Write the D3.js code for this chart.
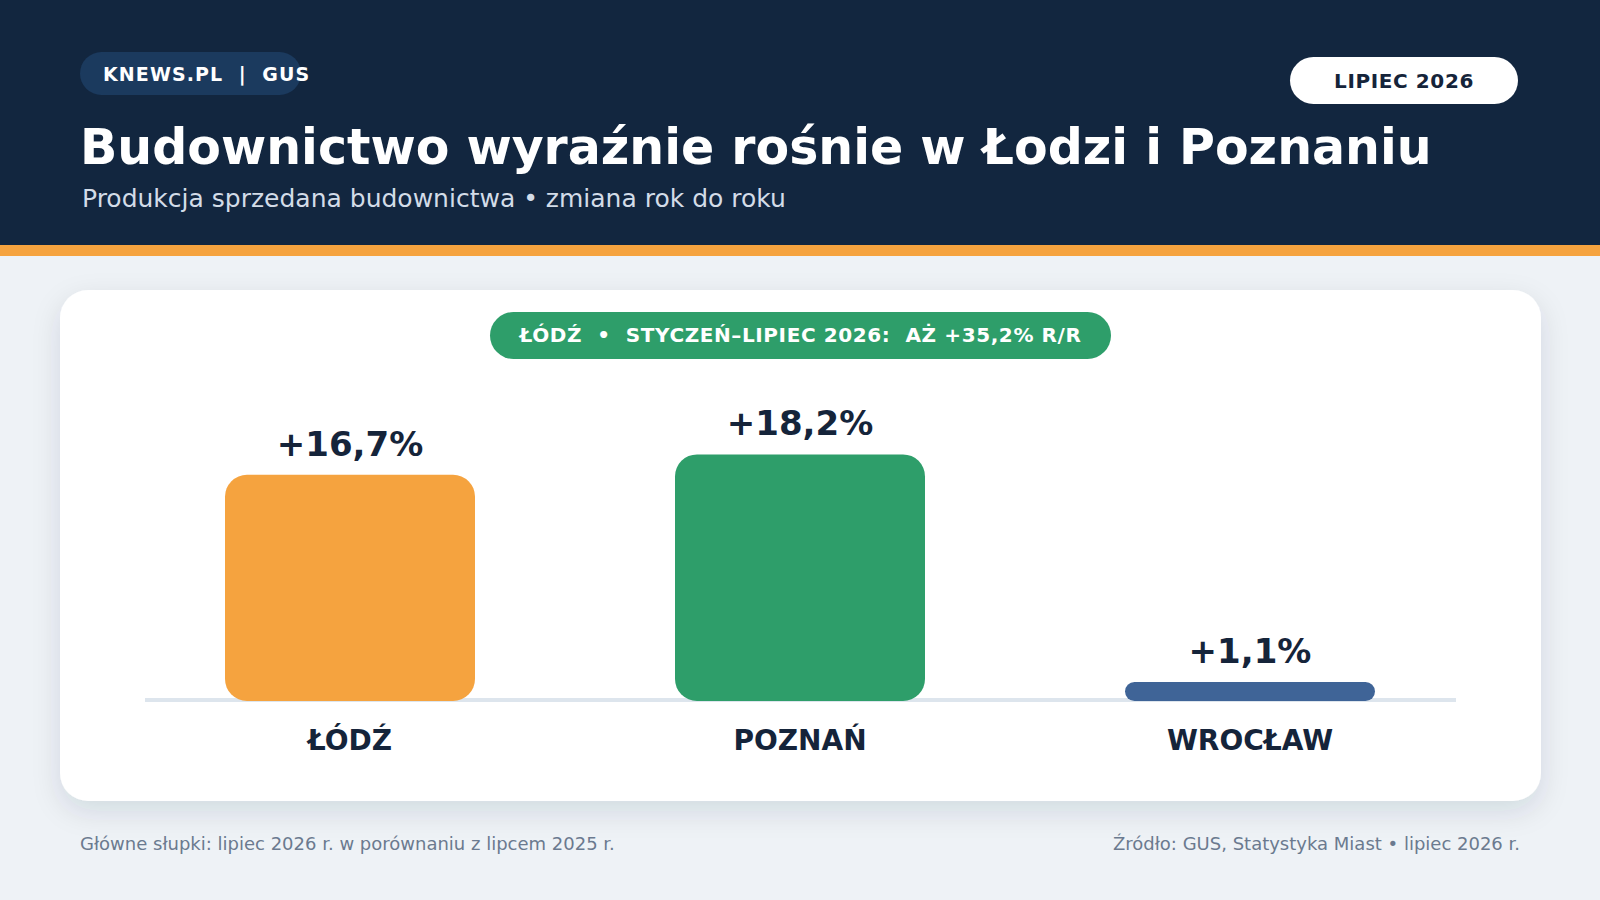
<!DOCTYPE html>
<html lang="pl">
<head>
<meta charset="utf-8">
<title>Budownictwo</title>
<script src="https://cdn.jsdelivr.net/npm/d3@7"></script>
<style>
  html, body { margin: 0; padding: 0; background: #eef2f6; }
  svg { display: block; font-family: "DejaVu Sans", Verdana, sans-serif; }
</style>
</head>
<body>
<svg id="chart" width="1600" height="900"></svg>
<script>
// dane: produkcja sprzedana budownictwa, lipiec 2026 r/r
var cities = ['ŁÓDŹ', 'POZNAŃ', 'WROCŁAW'];
var changes = [16.7, 18.2, 1.1];
var barColors = ['#f5a33f', '#2e9e6a', '#3f6497'];

var title = 'Budownictwo wyraźnie rośnie w Łodzi i Poznaniu';
var subtitle = 'Produkcja sprzedana budownictwa • zmiana rok do roku';
var brand = 'KNEWS.PL  |  GUS';
var period = 'LIPIEC 2026';
var highlight = 'ŁÓDŹ  •  STYCZEŃ–LIPIEC 2026:  AŻ +35,2% R/R';
var noteLeft = 'Główne słupki: lipiec 2026 r. w porównaniu z lipcem 2025 r.';
var noteRight = 'Źródło: GUS, Statystyka Miast • lipiec 2026 r.';

var pl = d3.formatLocale({decimal: ',', thousands: ' ', grouping: [3], currency: ['', ' zł']});
var fmt = pl.format('+.1f');

var data = cities.map(function(c, i) {
  return {city: c, value: changes[i], color: barColors[i]};
});

var svg = d3.select('#chart');
var navy = '#15243a';

var defs = svg.append('defs');
var shadow = defs.append('filter').attr('id', 'shadow')
    .attr('x', '-10%').attr('y', '-10%').attr('width', '120%').attr('height', '130%');
shadow.append('feDropShadow')
    .attr('dx', 0).attr('dy', 10).attr('stdDeviation', 14)
    .attr('flood-color', '#1a2c48').attr('flood-opacity', 0.12);

// naglowek
svg.append('rect').attr('width', 1600).attr('height', 245).attr('fill', '#12263f');
svg.append('rect').attr('y', 245).attr('width', 1600).attr('height', 11).attr('fill', '#f5a33f');

svg.append('rect')
    .attr('x', 80).attr('y', 52).attr('width', 221).attr('height', 43).attr('rx', 21.5)
    .attr('fill', '#1b3a5e');
svg.append('text')
    .attr('x', 103).attr('y', 81)
    .attr('fill', '#fff').attr('font-size', 19).attr('font-weight', 700)
    .attr('letter-spacing', 1.1)
    .style('white-space', 'pre')
    .text(brand);

svg.append('rect')
    .attr('x', 1290).attr('y', 57).attr('width', 228).attr('height', 47).attr('rx', 23.5)
    .attr('fill', '#fff');
svg.append('text')
    .attr('x', 1404).attr('y', 88).attr('text-anchor', 'middle')
    .attr('fill', navy).attr('font-size', 20).attr('font-weight', 700)
    .attr('letter-spacing', 0.6)
    .text(period);

svg.append('text')
    .attr('x', 80).attr('y', 164)
    .attr('fill', '#fff').attr('font-size', 49).attr('font-weight', 700)
    .text(title);
svg.append('text')
    .attr('x', 82).attr('y', 207)
    .attr('fill', '#d3dce8').attr('font-size', 25)
    .text(subtitle);

// karta
svg.append('rect')
    .attr('x', 60).attr('y', 290).attr('width', 1481).attr('height', 511).attr('rx', 28)
    .attr('fill', '#fff').attr('filter', 'url(#shadow)');

svg.append('rect')
    .attr('x', 490).attr('y', 312).attr('width', 621).attr('height', 47).attr('rx', 23.5)
    .attr('fill', '#2e9e6a');
svg.append('text')
    .attr('x', 800.5).attr('y', 342).attr('text-anchor', 'middle')
    .attr('fill', '#fff').attr('font-size', 20).attr('font-weight', 700)
    .attr('letter-spacing', 0.6)
    .style('white-space', 'pre')
    .text(highlight);

var x = d3.scaleBand()
    .domain(cities)
    .range([125, 1475])
    .paddingInner(4 / 9)
    .paddingOuter(2 / 9);

var y = d3.scaleLinear()
    .domain([0, 20])
    .range([701, 430]);

var minBar = 19;
function barH(d) { return Math.max(y(0) - y(d.value), minBar); }

svg.append('line')
    .attr('x1', 145).attr('x2', 1456)
    .attr('y1', y(0) - 1).attr('y2', y(0) - 1)
    .attr('stroke', '#dde5ed').attr('stroke-width', 4);

var bars = svg.selectAll('.bar')
    .data(data)
  .enter().append('g')
    .attr('class', 'bar');

bars.append('rect')
    .attr('x', function(d) { return x(d.city); })
    .attr('y', function(d) { return y(0) - barH(d); })
    .attr('width', x.bandwidth())
    .attr('height', barH)
    .attr('rx', function(d) { return Math.min(22, barH(d) / 2); })
    .attr('fill', function(d) { return d.color; });

bars.append('text')
    .attr('x', function(d) { return x(d.city) + x.bandwidth() / 2; })
    .attr('y', function(d) { return y(0) - barH(d) - 19; })
    .attr('text-anchor', 'middle')
    .attr('fill', navy).attr('font-size', 34).attr('font-weight', 700)
    .text(function(d) { return fmt(d.value) + '%'; });

bars.append('text')
    .attr('x', function(d) { return x(d.city) + x.bandwidth() / 2; })
    .attr('y', 750)
    .attr('text-anchor', 'middle')
    .attr('fill', navy).attr('font-size', 28).attr('font-weight', 700)
    .text(function(d) { return d.city; });

// stopka
svg.append('text')
    .attr('x', 80).attr('y', 850)
    .attr('fill', '#6b7a8f').attr('font-size', 18)
    .text(noteLeft);
svg.append('text')
    .attr('x', 1520).attr('y', 850).attr('text-anchor', 'end')
    .attr('fill', '#6b7a8f').attr('font-size', 18)
    .text(noteRight);
</script>
</body>
</html>
